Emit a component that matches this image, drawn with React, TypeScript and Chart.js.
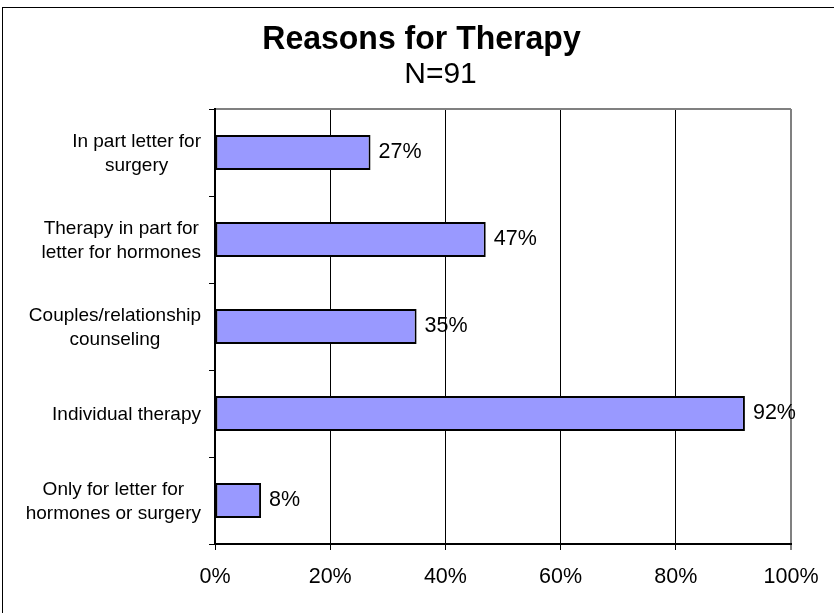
import React, { useEffect, useRef } from "react";
import { Chart, registerables } from "chart.js";

Chart.register(...registerables);

const categories: string[][] = [
  ["In part letter for", "surgery"],
  ["Therapy in part for", "letter for hormones"],
  ["Couples/relationship", "counseling"],
  ["Individual therapy"],
  ["Only for letter for", "hormones or surgery"],
];
const percentages: number[] = [27, 47, 35, 92, 8];
const xTicks: number[] = [0, 20, 40, 60, 80, 100];
const titleText = "Reasons for Therapy";
const subtitleText = "N=91";

const FONT = "'Liberation Sans', Arial, sans-serif";

// Draws text horizontally scaled by factor sx around its centre x
function scaledText(ctx: CanvasRenderingContext2D, text: string, cx: number, baseline: number, sx: number) {
  ctx.save();
  ctx.translate(cx, baseline);
  ctx.scale(sx, 1);
  ctx.textAlign = "center";
  ctx.textBaseline = "alphabetic";
  ctx.fillText(text, 0, 0);
  ctx.restore();
}

// Frame, heading, category labels and value labels drawn on the canvas
const decorations = {
  id: "decorations",
  afterDraw(chart: any) {
    const { ctx, chartArea, scales } = chart;
    ctx.save();

    // outer frame
    ctx.strokeStyle = "#000";
    ctx.lineWidth = 1;
    ctx.strokeRect(2.5, 7.5, 900, 700);

    // heading
    ctx.fillStyle = "#000";
    ctx.font = `bold 33px ${FONT}`;
    scaledText(ctx, titleText, 421.5, 49, 0.97);
    ctx.font = `30px ${FONT}`;
    scaledText(ctx, subtitleText, 440.5, 82.5, 1);

    // top edge of the plot area
    ctx.strokeStyle = "#808080";
    ctx.lineWidth = 2;
    ctx.beginPath();
    ctx.moveTo(chartArea.left + 1, chartArea.top);
    ctx.lineTo(chartArea.right, chartArea.top);
    ctx.stroke();

    // category labels: block right-aligned, lines centred within the block
    const y = scales.y;
    ctx.font = `19px ${FONT}`;
    ctx.textBaseline = "middle";
    ctx.textAlign = "center";
    const lineH = 24;
    const rightEdge = 201;
    categories.forEach((lines, i) => {
      const cy = y.getPixelForValue(i) + 1.5;
      const w = Math.max(...lines.map((l) => ctx.measureText(l).width));
      const cx = rightEdge - w / 2;
      const startY = cy - ((lines.length - 1) * lineH) / 2;
      lines.forEach((l, j) => ctx.fillText(l, cx, startY + j * lineH));
    });

    // value labels at the end of each bar
    const meta = chart.getDatasetMeta(0);
    ctx.font = `21.5px ${FONT}`;
    ctx.textAlign = "left";
    meta.data.forEach((bar: any, i: number) => {
      ctx.fillText(`${percentages[i]}%`, bar.x + 8, bar.y);
    });

    ctx.restore();
  },
};

export default function App() {
  const canvasRef = useRef<HTMLCanvasElement | null>(null);

  useEffect(() => {
    if (!canvasRef.current) return;
    const chart = new Chart(canvasRef.current, {
      type: "bar",
      data: {
        labels: categories.map((c) => c.join(" ")),
        datasets: [
          {
            data: percentages,
            backgroundColor: "#9999FF",
            borderColor: "#000",
            borderWidth: 2,
            borderSkipped: false,
            categoryPercentage: 1,
            barPercentage: 0.4,
          },
        ],
      },
      options: {
        indexAxis: "y",
        responsive: false,
        animation: false,
        devicePixelRatio: 1,
        layout: { padding: { top: 109, right: 43, left: 0, bottom: 0 } },
        plugins: {
          legend: { display: false },
          tooltip: { enabled: false },
          title: { display: false },
        },
        scales: {
          x: {
            type: "linear",
            min: 0,
            max: 100,
            afterBuildTicks: (scale: any) => {
              scale.ticks = xTicks.map((v) => ({ value: v }));
            },
            afterFit: (scale: any) => {
              scale.height = 69;
            },
            ticks: {
              callback: (v: any) => `${v}%`,
              color: "#000",
              font: { family: FONT, size: 21.5 },
              padding: 14,
              maxRotation: 0,
            },
            grid: {
              color: (c: any) => (c.tick && c.tick.value === 100 ? "#808080" : "#000"),
              lineWidth: (c: any) => (c.tick && c.tick.value === 100 ? 2 : 1),
              tickColor: "#000",
              tickWidth: 1,
              tickLength: 6,
              drawTicks: true,
            },
            border: { display: true, color: "#000", width: 2 },
          },
          y: {
            type: "category",
            afterFit: (scale: any) => {
              scale.width = 215;
            },
            ticks: { display: false },
            grid: {
              drawOnChartArea: false,
              drawTicks: true,
              tickLength: 6,
              color: "#000",
              lineWidth: 1,
              offset: true,
            },
            border: { display: true, color: "#000", width: 2 },
          },
        },
      },
      plugins: [decorations],
    });
    return () => chart.destroy();
  }, []);

  return (
    <div style={{ position: "absolute", left: 0, top: 0, width: 834, height: 613, background: "#fff" }}>
      <canvas ref={canvasRef} width={834} height={613} />
    </div>
  );
}
